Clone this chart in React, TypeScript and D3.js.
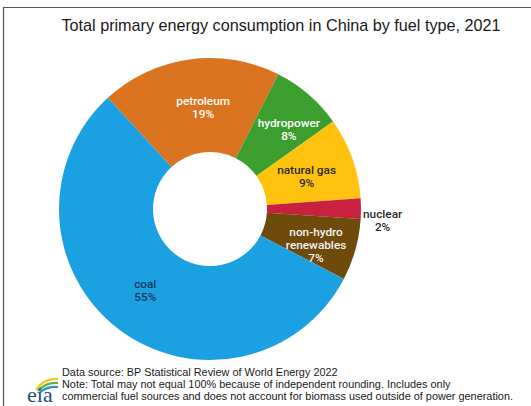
import React from "react";
import * as d3 from "d3";

const categories = ["petroleum", "hydropower", "natural gas", "nuclear", "non-hydro renewables", "coal"];
const values = [19.3, 7.7, 8.7, 2.2, 6.6, 55.5];
const pctLabels = ["19%", "8%", "9%", "2%", "7%", "55%"];
const colors = ["#DB7420", "#3B9E2E", "#FFC20E", "#C8203F", "#6E4A0B", "#1BA1E2"];
const textColors = ["#ffffff", "#ffffff", "#2b2b2b", "#2b2b2b", "#f2f2f2", "#15375c"];
const labelRadialShift = [-2, 8, -2, 0, 8, 0];
const labelAngleShift = [4, 4, 1, 4, 3, 1];

const W = 531;
const H = 406;
const cx = 210;
const cy = 209;
const outerR = 151;
const innerR = 57;

export default function App() {
  const start = (-42.6 * Math.PI) / 180;
  const pie = d3.pie<number>().sort(null).startAngle(start).endAngle(start + 2 * Math.PI);
  const arcs = pie(values);
  const arcGen = d3.arc<d3.PieArcDatum<number>>().innerRadius(innerR).outerRadius(outerR);

  const labelPos = (i: number, a: d3.PieArcDatum<number>) => {
    const mid = (a.startAngle + a.endAngle) / 2 + (labelAngleShift[i] * Math.PI) / 180;
    const r =
      categories[i] === "nuclear" ? outerR + 22 : (innerR + outerR) / 2 + labelRadialShift[i];
    return [Math.sin(mid) * r, -Math.cos(mid) * r];
  };

  return (
    <svg width={W} height={H} style={{ position: "absolute", left: 0, top: 0, background: "#fff" }}>
      <rect x={0} y={0} width={W} height={H} fill="#fff" />
      <path d={`M3.5,${H} L3.5,7.5 L${W},7.5`} fill="none" stroke="#555" strokeWidth={1.2} />
      <text
        x={281}
        y={31}
        textAnchor="middle"
        fontFamily="Liberation Sans, Arial, sans-serif"
        fontSize={16.2}
        fill="#1a1a1a"
      >
        Total primary energy consumption in China by fuel type, 2021
      </text>
      <g transform={`translate(${cx},${cy})`}>
        {arcs.map((a, i) => (
          <path key={categories[i]} d={arcGen(a) || ""} fill={colors[i]} />
        ))}
        {arcs.map((a, i) => {
          const [x, y] = labelPos(i, a);
          const name = categories[i];
          const lines = name === "non-hydro renewables" ? ["non-hydro", "renewables"] : [name];
          const all = [...lines, pctLabels[i]];
          const lh = 13;
          const y0 = y - ((all.length - 1) * lh) / 2;
          return (
            <text
              key={"l" + name}
              textAnchor="middle"
              fontFamily="Roboto, sans-serif"
              fontWeight={500}
              fontSize={11.8}
              fill={textColors[i]}
            >
              {all.map((t, j) => (
                <tspan key={j} x={x} y={y0 + j * lh} dy="0.35em">
                  {t}
                </tspan>
              ))}
            </text>
          );
        })}
      </g>
      <g fontFamily="Liberation Sans, Arial, sans-serif" fontSize={10.9} fill="#1a1a1a">
        <text x={62} y={376}>Data source: BP Statistical Review of World Energy 2022</text>
        <text x={62} y={388}>Note: Total may not equal 100% because of independent rounding. Includes only</text>
        <text x={62} y={400}>
          commercial fuel sources and does not account for biomass used outside of power generation.
        </text>
      </g>
      <g>
        <path d="M36,390 Q44,378 58,379" fill="none" stroke="#F5C518" strokeWidth={2.2} />
        <path d="M38,391 Q46,382 58,383" fill="none" stroke="#5DB04A" strokeWidth={2.2} />
        <path d="M40,392 Q48,386 58,387" fill="none" stroke="#2A8FD0" strokeWidth={2.2} />
        <text x={27} y={402} fontFamily="Liberation Serif, serif" fontSize={22} fill="#1D4F80">
          eia
        </text>
      </g>
    </svg>
  );
}
